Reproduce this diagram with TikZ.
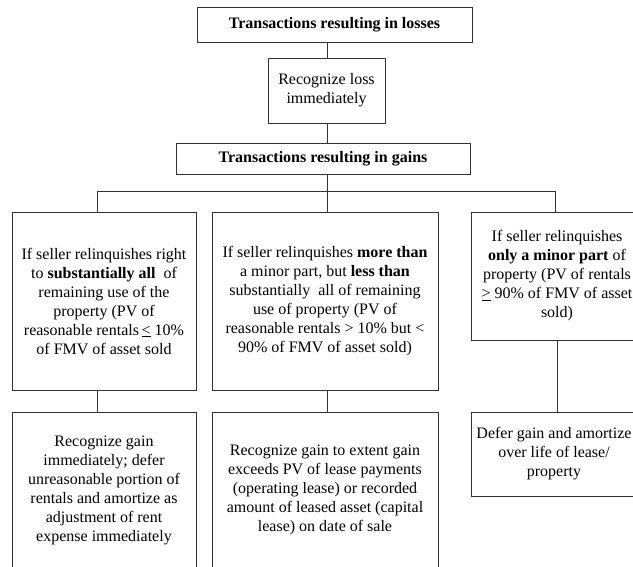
\documentclass[tikz,border=0pt]{standalone}
\usepackage{fontspec}
\setmainfont{Liberation Serif}
\begin{document}
\begin{tikzpicture}[x=1pt,y=-1pt,
  box/.style={draw=black!80,line width=0.8pt,align=center,inner sep=0pt,
    font=\fontsize{16}{19}\selectfont},
  conn/.style={draw=black!80,line width=0.8pt}]
\useasboundingbox (0,0) rectangle (633,566);
\clip (0,0) rectangle (633,566);
% top part
\node[box,minimum width=275pt,minimum height=35pt] (loss) at (334.5,24.5) {\textbf{Transactions resulting in losses}};
\node[box,minimum width=117pt,minimum height=65pt] (rec) at (326.5,90.5) {Recognize loss\\immediately};
\node[box,minimum width=294pt,minimum height=31pt] (gain) at (323,158.5) {\textbf{Transactions resulting in gains}};
% columns
\node[box,minimum width=184pt,minimum height=178pt] (l1) at (104,301) {If seller relinquishes right\\to \textbf{substantially all}\ \ of\\remaining use of the\\property (PV of\\reasonable rentals\,\underline{<} 10\%\\of FMV of asset sold};
\node[box,minimum width=226pt,minimum height=178pt] (m1) at (325,301) {If seller relinquishes \textbf{more than}\\a minor part, but \textbf{less than}\\substantially\ \ all of remaining\\use of property (PV of\\reasonable rentals {>} 10\% but {<}\\90\% of FMV of asset sold)};
\node[box,minimum width=172pt,minimum height=128pt] (r1) at (557,276) {If seller relinquishes\\\textbf{only a minor part} of\\property (PV of rentals\\\underline{>} 90\% of FMV of asset\\sold)};
\node[box,minimum width=166pt,minimum height=84pt] (r2) at (554,454) {Defer gain and amortize\\over life of lease/\\property};
\node[box,minimum width=184pt,minimum height=156pt] (l2) at (104,490) {Recognize gain\\immediately; defer\\unreasonable portion of\\rentals and amortize as\\adjustment of rent\\expense immediately};
\node[box,minimum width=226pt,minimum height=156pt] (m2) at (325,490) {Recognize gain to extent gain\\exceeds PV of lease payments\\(operating lease) or recorded\\amount of leased asset (capital\\lease) on date of sale};
% connector coordinates
\coordinate (cm) at (327,191);
\coordinate (cl) at (97,191);
\coordinate (cr) at (555,191);
\coordinate (cr2) at (557,0);
\draw[conn] (cm |- loss.south) -- (cm |- rec.north);
\draw[conn] (cm |- rec.south) -- (cm |- gain.north);
\draw[conn] (cm |- gain.south) -- (cm);
\draw[conn] (cl |- l1.north) -- (cl) -- (cr) -- (cr |- r1.north);
\draw[conn] (cm) -- (cm |- m1.north);
\draw[conn] (cl |- l1.south) -- (cl |- l2.north);
\draw[conn] (cm |- m1.south) -- (cm |- m2.north);
\draw[conn] (cr2 |- r1.south) -- (cr2 |- r2.north);
\end{tikzpicture}
\end{document}
